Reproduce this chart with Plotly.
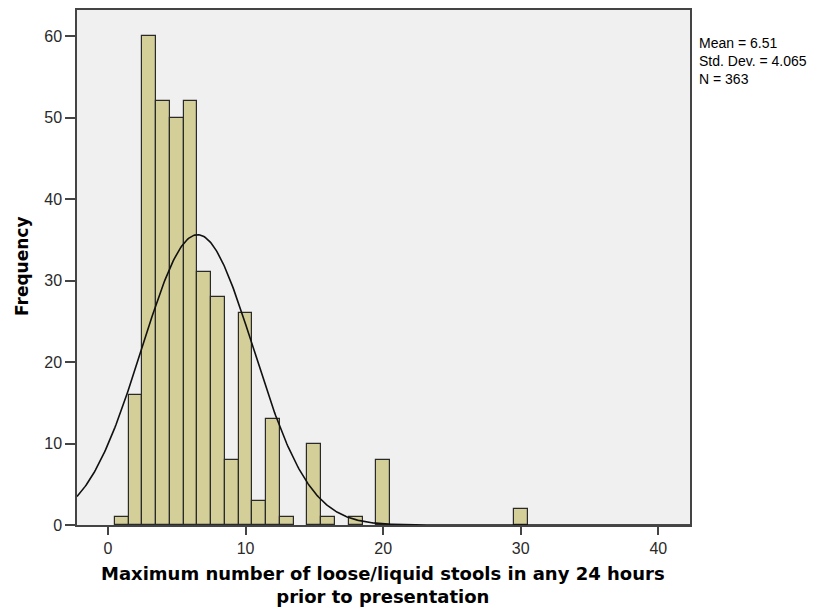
import numpy as np
import plotly.graph_objects as go

# Histogram bins (centres) and frequencies
bin_centers = [1, 2, 3, 4, 5, 6, 7, 8, 9, 10, 11, 12, 13, 15, 16, 18, 20, 30]
frequencies = [1, 16, 60, 52, 50, 52, 31, 28, 8, 26, 3, 13, 1, 10, 1, 1, 8, 2]

mean_val = 6.51
std_val = 4.065
n_val = 363
bin_width = 1.0

x_ticks = [0, 10, 20, 30, 40]
y_ticks = [0, 10, 20, 30, 40, 50, 60]
x_range = [-2.25, 42.3]
y_range = [0, 63.2]

stats_lines = ["Mean = 6.51", "Std. Dev. = 4.065", "N = 363"]
x_title_lines = ["Maximum number of loose/liquid stools in any 24 hours", "prior to presentation"]
y_title = "Frequency"

# Normal curve scaled to the histogram
xc = np.linspace(x_range[0], x_range[1], 600)
yc = n_val * bin_width * np.exp(-0.5 * ((xc - mean_val) / std_val) ** 2) / (std_val * np.sqrt(2 * np.pi))

FONT = "Liberation Sans, Arial, sans-serif"
BOLD = "DejaVu Sans, Verdana, sans-serif"

fig = go.Figure()
fig.add_trace(go.Bar(
    x=bin_centers, y=frequencies, width=bin_width,
    marker=dict(color="#d4cf98", line=dict(color="#2a2a2a", width=1.2)),
    showlegend=False, hoverinfo="x+y",
))
fig.add_trace(go.Scatter(
    x=xc, y=yc, mode="lines", line=dict(color="#111111", width=1.6),
    showlegend=False, hoverinfo="skip",
))

L, R, T, B = 77, 145, 8, 89
W, H = 835, 614
pw, ph = W - L - R, H - T - B

fig.update_layout(
    width=W, height=H,
    margin=dict(l=L, r=R, t=T, b=B),
    paper_bgcolor="white", plot_bgcolor="#f0f0f0",
    font=dict(family=FONT, size=16, color="#222222"),
    bargap=0,
)
fig.update_xaxes(
    range=x_range, tickvals=x_ticks, ticktext=[str(v) for v in x_ticks],
    showgrid=False, zeroline=False,
    showline=True, linecolor="#444444", linewidth=1.5, mirror=True,
    ticks="outside", ticklen=8, tickwidth=1.5, tickcolor="#444444",
    tickfont=dict(size=16, color="#2a2a2a"),
)
fig.update_yaxes(
    range=y_range, tickvals=y_ticks, ticktext=[str(v) for v in y_ticks],
    showgrid=False, zeroline=False,
    showline=True, linecolor="#444444", linewidth=1.5, mirror=True,
    ticks="outside", ticklen=10, tickwidth=1.5, tickcolor="#444444",
    tickfont=dict(size=16, color="#2a2a2a"),
)

# Y axis title
fig.add_annotation(
    xref="paper", yref="paper",
    x=(22 - L) / pw, y=(H - B - 265) / ph,
    xanchor="center", yanchor="middle", showarrow=False, textangle=-90,
    text="<b>" + y_title + "</b>", font=dict(size=17, color="#000000", family=BOLD),
)

# Stats box text (single block)
fig.add_annotation(
    xref="paper", yref="paper",
    x=(697 - L) / pw, y=(H - B - 31) / ph,
    xanchor="left", yanchor="top", align="left", showarrow=False,
    text="<br>".join(stats_lines), font=dict(size=14, color="#000000", family=FONT),
)

# X axis title (two lines)
fig.add_annotation(
    xref="paper", yref="paper",
    x=(383 - L) / pw, y=(H - B - 561) / ph,
    xanchor="center", yanchor="top", align="center", showarrow=False,
    text="<br>".join("<b>" + s + "</b>" for s in x_title_lines),
    font=dict(size=18, color="#000000", family=BOLD),
)

fig.write_html("out.html")
